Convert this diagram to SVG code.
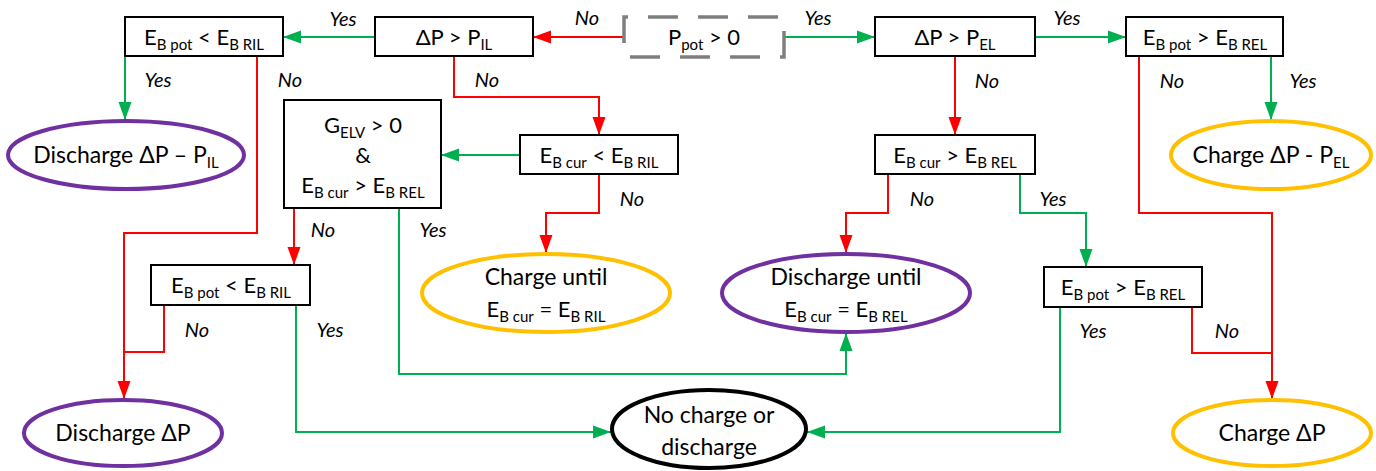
<svg xmlns="http://www.w3.org/2000/svg" width="1376" height="471" viewBox="0 0 1376 471">
<defs>
<style>
.box{fill:#fff;stroke:#000;stroke-width:2}
.dash{fill:none;stroke:#7F7F7F;stroke-width:3.5;stroke-dasharray:30 20}
.purple{fill:#fff;stroke:#7030A0;stroke-width:4}
.orange{fill:#fff;stroke:#FFC000;stroke-width:4}
.black{fill:#fff;stroke:#000;stroke-width:4}
.g{fill:none;stroke:#00B050;stroke-width:2}
.r{fill:none;stroke:#FF0000;stroke-width:2}
.t{font-family:Lato,"Open Sans",sans-serif;font-size:22px;fill:#000;text-anchor:middle}
.te{font-family:Lato,"Open Sans",sans-serif;font-size:23px;fill:#000;text-anchor:middle}
.s{font-size:15px}
.lbl{font-family:Lato,"Open Sans",sans-serif;font-size:20px;font-style:italic;fill:#000;text-anchor:middle}
</style>
<marker id="ag" markerUnits="userSpaceOnUse" markerWidth="18" markerHeight="14" refX="18" refY="7" orient="auto"><path d="M0,0.5 L18,7 L0,13.5 z" fill="#00B050"/></marker>
<marker id="ar" markerUnits="userSpaceOnUse" markerWidth="18" markerHeight="14" refX="18" refY="7" orient="auto"><path d="M0,0.5 L18,7 L0,13.5 z" fill="#FF0000"/></marker>
</defs>
<rect width="1376" height="471" fill="#fff"/>

<g id="connectors">
<path class="r" d="M624,37 H533" marker-end="url(#ar)"/>
<path class="g" d="M784,37 H875" marker-end="url(#ag)"/>
<path class="g" d="M375,37 H283" marker-end="url(#ag)"/>
<path class="g" d="M1035,37 H1126" marker-end="url(#ag)"/>
<path class="g" d="M125,56 V120" marker-end="url(#ag)"/>
<path class="r" d="M257,56 V233 H124 V399" marker-end="url(#ar)"/>
<path class="r" d="M454,56 V97 H599 V135" marker-end="url(#ar)"/>
<path class="g" d="M520,155 H441" marker-end="url(#ag)"/>
<path class="r" d="M599,174 V213 H546 V253" marker-end="url(#ar)"/>
<path class="r" d="M294,208 V265" marker-end="url(#ar)"/>
<path class="g" d="M399,208 V374 H846 V333" marker-end="url(#ag)"/>
<path class="r" d="M164,305 V352 H124"/>
<path class="g" d="M296,305 V432 H611" marker-end="url(#ag)"/>
<path class="r" d="M955,56 V135" marker-end="url(#ar)"/>
<path class="r" d="M888,174 V213 H846 V253" marker-end="url(#ar)"/>
<path class="g" d="M1020,174 V213 H1086 V267" marker-end="url(#ag)"/>
<path class="g" d="M1271,56 V120" marker-end="url(#ag)"/>
<path class="r" d="M1139,56 V213 H1272 V399" marker-end="url(#ar)"/>
<path class="r" d="M1192,307 V353 H1272"/>
<path class="g" d="M1060,307 V432 H807" marker-end="url(#ag)"/>
<text class="lbl" x="587" y="25">No</text>
<text class="lbl" x="818" y="25">Yes</text>
<text class="lbl" x="343" y="26">Yes</text>
<text class="lbl" x="1067" y="25">Yes</text>
<text class="lbl" x="158" y="87">Yes</text>
<text class="lbl" x="290" y="87">No</text>
<text class="lbl" x="487" y="87">No</text>
<text class="lbl" x="632" y="206">No</text>
<text class="lbl" x="323" y="237">No</text>
<text class="lbl" x="433" y="237">Yes</text>
<text class="lbl" x="197" y="337">No</text>
<text class="lbl" x="330" y="337">Yes</text>
<text class="lbl" x="987" y="88">No</text>
<text class="lbl" x="922" y="206">No</text>
<text class="lbl" x="1053" y="206">Yes</text>
<text class="lbl" x="1303" y="88">Yes</text>
<text class="lbl" x="1172" y="88">No</text>
<text class="lbl" x="1227" y="338">No</text>
<text class="lbl" x="1093" y="338">Yes</text>
</g>

<g id="n-pot">
<path class="dash" d="M624,43 V17 H784 V57 H624 V43"/>
<text class="t" x="704" y="45">P<tspan class="s" dy="5">pot</tspan><tspan dy="-5"> &gt; 0</tspan></text>
</g>
<g id="n-dp-il">
<rect class="box" x="375" y="17" width="158" height="39"/>
<text class="t" x="454" y="45">ΔP &gt; P<tspan class="s" dy="5">IL</tspan></text>
</g>
<g id="n-pot-ril">
<rect class="box" x="125" y="17" width="158" height="39"/>
<text class="t" x="204" y="45">E<tspan class="s" dy="5">B pot</tspan><tspan dy="-5"> &lt; E</tspan><tspan class="s" dy="5">B RIL</tspan></text>
</g>
<g id="n-dp-el">
<rect class="box" x="875" y="17" width="160" height="39"/>
<text class="t" x="955" y="45">ΔP &gt; P<tspan class="s" dy="5">EL</tspan></text>
</g>
<g id="n-pot-rel">
<rect class="box" x="1126" y="17" width="157" height="39"/>
<text class="t" x="1205" y="45">E<tspan class="s" dy="5">B pot</tspan><tspan dy="-5">  &gt; E</tspan><tspan class="s" dy="5">B REL</tspan></text>
</g>
<g id="n-gelv">
<rect class="box" x="284" y="100" width="157" height="108"/>
<text class="t" x="363" y="133">G<tspan class="s" dy="5">ELV</tspan><tspan dy="-5">  &gt; 0</tspan></text>
<text class="t" x="363" y="163">&amp;</text>
<text class="t" x="363" y="193">E<tspan class="s" dy="5">B cur</tspan><tspan dy="-5"> &gt; E</tspan><tspan class="s" dy="5">B REL</tspan></text>
</g>
<g id="n-cur-ril">
<rect class="box" x="520" y="135" width="158" height="39"/>
<text class="t" x="599" y="163">E<tspan class="s" dy="5">B cur</tspan><tspan dy="-5"> &lt; E</tspan><tspan class="s" dy="5">B RIL</tspan></text>
</g>
<g id="n-cur-rel">
<rect class="box" x="875" y="135" width="160" height="39"/>
<text class="t" x="955" y="163">E<tspan class="s" dy="5">B cur</tspan><tspan dy="-5"> &gt; E</tspan><tspan class="s" dy="5">B REL</tspan></text>
</g>
<g id="n-pot-ril2">
<rect class="box" x="151" y="265" width="159" height="40"/>
<text class="t" x="231" y="293">E<tspan class="s" dy="5">B pot</tspan><tspan dy="-5">  &lt; E</tspan><tspan class="s" dy="5">B RIL</tspan></text>
</g>
<g id="n-pot-rel2">
<rect class="box" x="1044" y="267" width="158" height="40"/>
<text class="t" x="1123" y="295">E<tspan class="s" dy="5">B pot</tspan><tspan dy="-5"> &gt; E</tspan><tspan class="s" dy="5">B REL</tspan></text>
</g>

<g id="e-dis-il">
<ellipse class="purple" cx="126" cy="155" rx="118" ry="34"/>
<text class="te" x="126" y="163">Discharge ΔP – P<tspan class="s" dy="5">IL</tspan></text>
</g>
<g id="e-ch-el">
<ellipse class="orange" cx="1271" cy="155" rx="100" ry="34"/>
<text class="te" x="1271" y="163">Charge ΔP - P<tspan class="s" dy="5">EL</tspan></text>
</g>
<g id="e-ch-until">
<ellipse class="orange" cx="546" cy="293" rx="124" ry="39"/>
<text class="te" x="546" y="285">Charge until</text>
<text class="t" x="546" y="317">E<tspan class="s" dy="5">B cur</tspan><tspan dy="-5"> = E</tspan><tspan class="s" dy="5">B RIL</tspan></text>
</g>
<g id="e-dis-until">
<ellipse class="purple" cx="846" cy="293" rx="124" ry="39"/>
<text class="te" x="846" y="285">Discharge until</text>
<text class="t" x="846" y="317">E<tspan class="s" dy="5">B cur</tspan><tspan dy="-5"> = E</tspan><tspan class="s" dy="5">B REL</tspan></text>
</g>
<g id="e-dis">
<ellipse class="purple" cx="123" cy="433" rx="99" ry="33"/>
<text class="te" x="123" y="441">Discharge ΔP</text>
</g>
<g id="e-none">
<ellipse class="black" cx="709" cy="429" rx="97" ry="39"/>
<text class="te" x="709" y="423">No charge or</text>
<text class="te" x="709" y="455">discharge</text>
</g>
<g id="e-ch">
<ellipse class="orange" cx="1272" cy="433" rx="99" ry="33"/>
<text class="te" x="1272" y="441">Charge ΔP</text>
</g>
</svg>
